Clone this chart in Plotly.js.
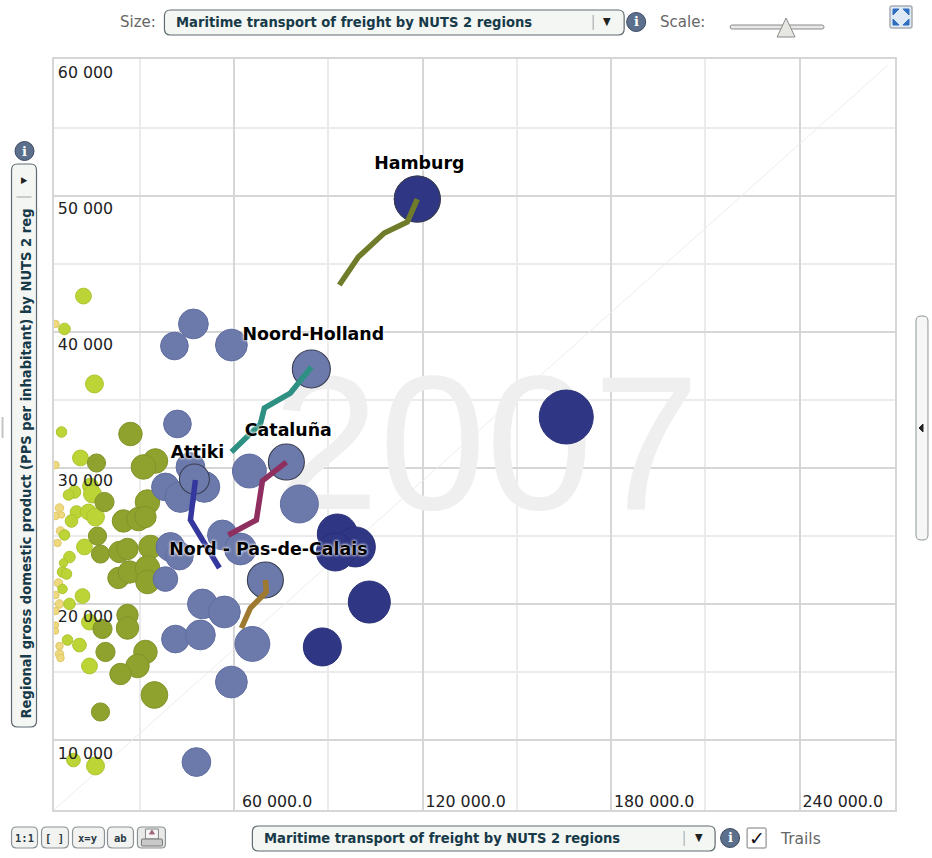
<!DOCTYPE html>
<html><head><meta charset="utf-8">
<script src="https://cdn.plot.ly/plotly-3.0.1.min.js"></script>
<style>html,body{margin:0;padding:0;background:#fff;overflow:hidden}#c{width:932px;height:858px}</style>
</head><body><div id="c"></div>
<script>
// ---- data ----
var yearLabel = "2007";
var xTickVals = [60000,120000,180000,240000];
var xTickText = ["60 000.0","120 000.0","180 000.0","240 000.0"];
var yTickVals = [10000,20000,30000,40000,50000,60000];
var yTickText = ["10 000","20 000","30 000","40 000","50 000","60 000"];

var navyX = [165700,118300,92860,98580,92220,103030,88090];
var navyY = [33740,49760,25140,24190,23820,20140,16840];
var navyS = [2916,2116,1600,1600,1444,1764,1444];

var blueX = [47060,41020,59150,41980,46110,38160,42930,50560,64870,80770,56290,62010,39750,42610,38160,49930,56920,41340,49290,59150,65830,48020];
var blueY = [40580,38960,39030,33230,30070,28600,27860,28600,29770,27350,25070,24040,24190,23520,21830,20000,19410,17420,17720,14260,17060,8380];
var blueS = [841,729,961,729,784,729,900,900,1089,1369,841,961,784,729,576,841,961,729,841,961,1156,784];

var oliveX = [27030,16220,34980,31160,18760,32440,24800,29570,31800,16540,17490,23530,26080,33390,23210,26710,32440,32440,26080,26080,18130,19080,31800,29260,23850,34660,17490];
var oliveY = [32490,30360,30510,30070,27490,27490,26100,26240,26390,24990,23670,23820,24040,24190,21910,22350,22640,21610,19190,18230,18160,16470,16470,15440,14850,13310,12060];
var oliveS = [484,289,529,529,324,529,441,484,400,289,289,400,400,484,400,441,529,484,400,441,324,324,484,484,400,625,289];

var limeX = [12080,6040,15580,5090,11130,14310,9220,7310,14950,9860,13670,15900,8270,6040,12400,7630,5720,5410,6680,5410,11770,7630,13990,7000,10810,13990,8900,15900];
var limeY = [42630,40210,36170,32640,30730,28670,28230,28010,28080,26760,26760,26390,26100,25070,24190,23450,23010,22350,22200,21100,20580,20000,18670,17350,16980,15440,8530,8090];
var limeS = [225,121,289,100,225,225,144,100,289,144,225,289,144,100,225,121,64,100,100,81,196,121,225,100,169,225,169,289];

var paleX = [3180,3180,4450,3180,5090,4770,3820,2700,4130,3180,4450,3180,3180,3180,4450,4450,4770];
var paleY = [40580,30210,27050,26460,26540,25360,24480,23080,21540,20660,20000,19480,18450,18010,16910,16320,16030];
var paleS = [49,49,64,49,36,64,49,36,64,49,64,49,36,36,49,64,49];

var regionNames = ["Hamburg","Noord-Holland","Cataluña","Attiki","Nord - Pas-de-Calais"];
var labelX = [118930,85220,77270,48340,70910];
var labelY = [52260,39690,32690,31070,23890];
var regionX = [118300,84590,76640,47380,69960];
var regionY = [49760,37270,30430,29180,21760];
var regionS = [2116,1444,1296,900,1296];

var hamburgTrailX = [93490,99530,107800,115120,118300];
var hamburgTrailY = [43440,45500,47260,48070,49760];
var noordTrailX = [59150,68370,69640,77910,84590];
var noordTrailY = [31170,33230,34400,35500,37420];
var cataTrailX = [58190,67100,69010,76640];
var cataTrailY = [25070,26170,29040,30430];
var attikiTrailX = [47700,47060,46110,55330];
var attikiTrailY = [29110,27640,26170,22640];
var nordTrailX = [62330,65190,70280,69960];
var nordTrailY = [18230,19700,20880,21760];

var diagX = [2700,268070];
var diagY = [4855,59610];
var xRange = [2703,270300];
var yRange = [4855,60054];

var sizeLabel = "Size:";
var scaleLabel = "Scale:";
var indicator = "Maritime transport of freight by NUTS 2 regions";
var yIndicator = "Regional gross domestic product (PPS per inhabitant) by NUTS 2 reg";
var trailsLabel = "Trails";
var toolButtons = ["1:1","[ ]","x=y","ab"];

// ---- helpers (pixel → paper, for the control chrome) ----
var L=53.5,R=895,T=59,B=810;
function px(x){return (x-L)/(R-L);}
function py(y){return (B-y)/(B-T);}
function rr(x0,y0,x1,y1,r){
  function p(x,y){return px(x)+' '+py(y);}
  return 'M'+p(x0+r,y0)+' L'+p(x1-r,y0)+' Q'+p(x1,y0)+' '+p(x1,y0+r)+' L'+p(x1,y1-r)+' Q'+p(x1,y1)+' '+p(x1-r,y1)+
         ' L'+p(x0+r,y1)+' Q'+p(x0,y1)+' '+p(x0,y1-r)+' L'+p(x0,y0+r)+' Q'+p(x0,y0)+' '+p(x0+r,y0)+' Z';
}
function box(x0,y0,x1,y1,r,fill,line,w){
  return {type:'path',xref:'paper',yref:'paper',path:rr(x0,y0,x1,y1,r),fillcolor:fill||'#f4f6f4',line:{color:line||'#5f6b70',width:w==null?1.2:w},layer:'above'};
}
function seg(x0,y0,x1,y1,c,w){
  return {type:'line',xref:'paper',yref:'paper',x0:px(x0),y0:py(y0),x1:px(x1),y1:py(y1),line:{color:c,width:w||1},layer:'above'};
}
function tri(pts,fill,line){
  var d=pts.map(function(q,i){return (i?'L':'M')+px(q[0])+' '+py(q[1]);}).join(' ')+' Z';
  return {type:'path',xref:'paper',yref:'paper',path:d,fillcolor:fill,line:{color:line||fill,width:1},layer:'above'};
}
function circ(cx,cy,r,fill){
  return {type:'circle',xref:'paper',yref:'paper',x0:px(cx-r),x1:px(cx+r),y0:py(cy+r),y1:py(cy-r),fillcolor:fill,line:{color:'#3c4a60',width:1},layer:'above'};
}
function ann(x,y,text,o){
  o=o||{};
  return {xref:'paper',yref:'paper',x:px(x),y:py(y),text:text,showarrow:false,xanchor:o.xa||'center',yanchor:'middle',
    textangle:o.angle||0,font:{family:o.family||'"DejaVu Sans Condensed","DejaVu Sans",sans-serif',size:o.size||13,color:o.color||'#173a48',weight:o.weight||'normal'}};
}

var shapes=[], annotations=[];
var ddSize=14.6;
// top selector
shapes.push(box(164,10,624,35,6));
shapes.push(seg(593,15,593,30,'#9aa3a6',1));
annotations.push(ann(138,22,sizeLabel,{color:'#666',family:'"DejaVu Sans",sans-serif',size:15}));
annotations.push(ann(174,22,indicator,{xa:'left',weight:'bold',size:ddSize}));
annotations.push(ann(607,22,'▼',{size:11,color:'#222'}));
shapes.push(circ(636,22,9.5,'#5c6f8c'));
annotations.push(ann(636,22,'i',{size:13,weight:'bold',color:'#fff',family:'"DejaVu Serif",serif'}));
annotations.push(ann(682,22,scaleLabel,{color:'#666',family:'"DejaVu Sans",sans-serif',size:15}));
shapes.push(box(730,25,824,29,2,'#e8e8e8','#8a8a8a',1));
shapes.push(tri([[786,18],[777,37],[795,37]],'#e6e6e2','#8a8a8a'));
// expand icon
shapes.push(box(890,6,912,28,2,'#dfe9f6','#a8adb4',1.5));
var blueIcon='#2f6fc0';
shapes.push(tri([[893,9],[899,9],[893,15]],blueIcon));
shapes.push(tri([[909,9],[903,9],[909,15]],blueIcon));
shapes.push(tri([[893,25],[899,25],[893,19]],blueIcon));
shapes.push(tri([[909,25],[903,25],[909,19]],blueIcon));
// left selector
shapes.push(circ(24,151,9.5,'#5c6f8c'));
annotations.push(ann(24,151,'i',{size:13,weight:'bold',color:'#fff',family:'"DejaVu Serif",serif'}));
shapes.push(box(11,164,36,727,6));
shapes.push(seg(16,197,31,197,'#9aa3a6',1));
annotations.push(ann(24,180,'▶',{size:9,color:'#222'}));
annotations.push({xref:'paper',yref:'paper',x:px(24),y:py(464),text:yIndicator,showarrow:false,textangle:-90,xanchor:'center',yanchor:'middle',
  font:{family:'"DejaVu Sans Condensed","DejaVu Sans",sans-serif',size:ddSize,color:'#173a48',weight:'bold'}});
// bottom selector
shapes.push(box(252,826,715,851,6));
shapes.push(seg(684,831,684,846,'#9aa3a6',1));
annotations.push(ann(262,838,indicator,{xa:'left',weight:'bold',size:ddSize}));
annotations.push(ann(699,838,'▼',{size:11,color:'#222'}));
shapes.push(circ(730,838,9.5,'#5c6f8c'));
annotations.push(ann(730,838,'i',{size:13,weight:'bold',color:'#fff',family:'"DejaVu Serif",serif'}));
shapes.push(box(747,828,766,848,1,'#fff','#7a7a7a',1));
annotations.push(ann(757,838,'✓',{size:19,color:'#111',family:'"DejaVu Sans",sans-serif'}));
annotations.push(ann(800,839,trailsLabel,{color:'#666',family:'"DejaVu Sans",sans-serif',size:15.5}));
// tool buttons
var bx=[[11,37],[41,68],[72,104],[107,133]];
toolButtons.forEach(function(t,i){
  shapes.push(box(bx[i][0],827,bx[i][1],848,5,'#f2f2f0','#8a9296',1.2));
  annotations.push(ann((bx[i][0]+bx[i][1])/2,838,t,{size:10.5,weight:'bold',color:'#2a3a44',family:'"DejaVu Sans Mono",monospace'}));
});
shapes.push(box(137,827,165,848,4,'#e9e9e7','#8a9296',1.2));
shapes.push(box(145,829,158,839,0,'#f4f4f4','#888',1));
shapes.push(tri([[149,834],[154,834],[151.5,830]],'#a06a7a'));
shapes.push(box(141,839,162,846,1,'#c9c9c9','#777',1));
// right scrollbar and side ticks
shapes.push(box(916,316,928,540,5,'#f6f6f6','#8d9698',1));
shapes.push(tri([[919,428],[923,424],[923,432]],'#222'));
shapes.push(seg(2,417,2,438,'#c4c4c4',2));

function trail(x,y,c){return {type:'scatter',mode:'lines',x:x,y:y,line:{color:c,width:5.5,shape:'linear'},hoverinfo:'skip',cliponaxis:true};}
function bubbles(name,x,y,s,c,lc,ref){return {type:'scatter',mode:'markers',name:name,x:x,y:y,
  marker:{size:s,sizemode:'area',sizeref:ref,color:c,opacity:1,line:{color:lc,width:1}},hovertemplate:'%{x}, %{y}<extra></extra>'};}

var traces=[
  {type:'scatter',mode:'text',x:[140200],y:[30500],text:[yearLabel],textposition:'middle center',
   textfont:{family:'"Liberation Sans",Arial,sans-serif',size:192,color:'#efefef'},hoverinfo:'skip'},
  {type:'scatter',mode:'lines',x:diagX,y:diagY,line:{color:'#ececec',width:1},hoverinfo:'skip'},
  bubbles('pale',paleX,paleY,paleS,'#eed97f','#e0c868',1.75),
  bubbles('lime',limeX,limeY,limeS,'#bcd435','#aec42f',1.8),
  bubbles('olive',oliveX,oliveY,oliveS,'#8fa22e','#82942a',1.75),
  bubbles('blue',blueX,blueY,blueS,'#6c79ab','#606da0',1.9),
  bubbles('navy',navyX,navyY,navyS,'#2f3684','#2a3078',2),
  {type:'scatter',mode:'markers',x:regionX,y:regionY,
   marker:{size:regionS,sizemode:'area',sizeref:2,opacity:1,color:['#2f3684','#6c79ab','#6c79ab','#6c79ab','#6c79ab'],line:{color:'#3a3f52',width:1.1}},hoverinfo:'skip'},
  trail(hamburgTrailX,hamburgTrailY,'#707c2a'),
  trail(noordTrailX,noordTrailY,'#2e9082'),
  trail(cataTrailX,cataTrailY,'#8e2f5f'),
  trail(attikiTrailX,attikiTrailY,'#34379e'),
  trail(nordTrailX,nordTrailY,'#9e7a30'),
  {type:'scatter',mode:'text',x:labelX,y:labelY,text:regionNames,textposition:'middle center',
   textfont:{family:'"DejaVu Sans",sans-serif',size:17.4,color:'#000',weight:'bold',shadow:'0 0 3px #fff, 0 0 3px #fff'},hoverinfo:'skip',cliponaxis:false}
];

var tickFont={family:'"DejaVu Sans",sans-serif',size:15.8,color:'#222'};
var layout={
  width:932,height:858,showlegend:false,paper_bgcolor:'#fff',plot_bgcolor:'#fff',
  margin:{l:L,r:932-R,t:T,b:858-B,pad:0},
  hovermode:'closest',
  xaxis:{range:xRange,tickmode:'array',tickvals:xTickVals,ticktext:xTickText,ticks:'',ticklabelposition:'inside',ticklabelshift:43,ticklabelstandoff:0,
    tickfont:tickFont,showgrid:true,gridcolor:'#d6d6d6',gridwidth:1.5,zeroline:false,showline:true,mirror:true,linecolor:'#d6d6d6',linewidth:2,
    minor:{tickmode:'array',tickvals:[30000,90000,150000,210000],showgrid:true,gridcolor:'#ebebeb',gridwidth:1.5,ticks:''}},
  yaxis:{range:yRange,tickmode:'array',tickvals:yTickVals,ticktext:yTickText,ticks:'',ticklabelposition:'inside',ticklabelshift:13,ticklabelstandoff:4,
    tickfont:tickFont,showgrid:true,gridcolor:'#d6d6d6',gridwidth:1.5,zeroline:false,showline:true,mirror:true,linecolor:'#d6d6d6',linewidth:2,
    minor:{tickmode:'array',tickvals:[15000,25000,35000,45000,55000],showgrid:true,gridcolor:'#ebebeb',gridwidth:1.5,ticks:''}},
  shapes:shapes,annotations:annotations
};
Plotly.newPlot('c',traces,layout,{displayModeBar:false,responsive:false});
</script></body></html>
